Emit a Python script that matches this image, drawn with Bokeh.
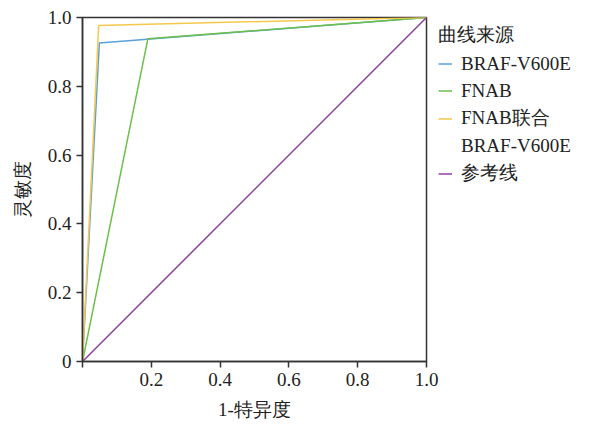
from bokeh.plotting import figure
from bokeh.models import Legend, LegendItem, FixedTicker, Range1d
from bokeh.embed import file_html
from bokeh.resources import INLINE

# data
braf_x = [0.0, 0.049, 1.0]
braf_y = [0.0, 0.926, 1.0]
fnab_x = [0.0, 0.19, 1.0]
fnab_y = [0.0, 0.938, 1.0]
comb_x = [0.0, 0.047, 1.0]
comb_y = [0.0, 0.977, 1.0]
ref_x = [0.0, 1.0]
ref_y = [0.0, 1.0]
ticks = [0, 0.2, 0.4, 0.6, 0.8, 1.0]
x_tick_labels = {0: "", 0.2: "0.2", 0.4: "0.4", 0.6: "0.6", 0.8: "0.8", 1.0: "1.0"}
y_tick_labels = {0: "0", 0.2: "0.2", 0.4: "0.4", 0.6: "0.6", 0.8: "0.8", 1.0: "1.0"}

FONT = "serif"
AX = "#333333"
TXT = "#222222"

p = figure(frame_width=344, frame_height=344, output_backend="svg", toolbar_location=None,
           x_range=Range1d(0, 1), y_range=Range1d(0, 1),
           min_border_left=82, min_border_top=17, min_border_bottom=5, min_border_right=5)
p.grid.visible = False
p.outline_line_color = AX
p.outline_line_width = 1.5
p.background_fill_color = "white"
p.border_fill_color = "white"

r1 = p.line(braf_x, braf_y, line_color="#5aa0d8", line_width=1.5)
r2 = p.line(fnab_x, fnab_y, line_color="#6cc04a", line_width=1.5)
r3 = p.line(comb_x, comb_y, line_color="#f5c84c", line_width=1.5)
r4 = p.line(ref_x, ref_y, line_color="#9040a0", line_width=1.5)
r_blank = p.line(ref_x, ref_y, line_alpha=0)

for ax, labels in ((p.xaxis, x_tick_labels), (p.yaxis, y_tick_labels)):
    ax.ticker = FixedTicker(ticks=ticks)
    ax.major_label_overrides = labels
    ax.minor_tick_line_color = None
    ax.major_tick_in = 0
    ax.major_tick_out = 6
    ax.axis_line_color = AX
    ax.axis_line_width = 1.5
    ax.major_tick_line_color = AX
    ax.major_tick_line_width = 1.5
    ax.major_label_text_font = FONT
    ax.major_label_text_font_size = "19px"
    ax.major_label_text_color = TXT
    ax.axis_label_text_font = FONT
    ax.axis_label_text_font_size = "19px"
    ax.axis_label_text_font_style = "normal"
    ax.axis_label_text_color = TXT

p.xaxis.axis_label = "1-特异度"
p.yaxis.axis_label = "灵敏度"
p.xaxis.axis_label_standoff = 10
p.yaxis.axis_label_standoff = 12

legend = Legend(items=[
    LegendItem(label="BRAF-V600E", renderers=[r1]),
    LegendItem(label="FNAB", renderers=[r2]),
    LegendItem(label="FNAB联合", renderers=[r3]),
    LegendItem(label="BRAF-V600E", renderers=[r_blank]),
    LegendItem(label="参考线", renderers=[r4]),
], location=(8, 171))
legend.title = "曲线来源"
legend.title_text_font = FONT
legend.title_text_font_size = "19px"
legend.title_text_font_style = "normal"
legend.title_text_color = TXT
legend.label_text_font = FONT
legend.label_text_font_size = "19px"
legend.label_text_color = TXT
legend.border_line_alpha = 0
legend.background_fill_alpha = 0
legend.glyph_width = 14
legend.glyph_height = 25
legend.label_height = 25
legend.spacing = 2
legend.label_standoff = 9
legend.margin = 0
legend.padding = 4
legend.title_standoff = 3
p.add_layout(legend, "right")

open("out.html", "w").write(file_html(p, INLINE))
